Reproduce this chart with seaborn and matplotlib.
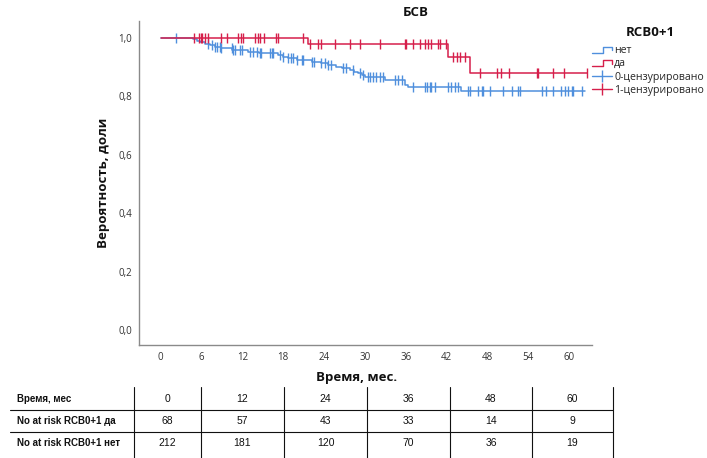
import numpy as np
import pandas as pd
import matplotlib
matplotlib.use("Agg")
import matplotlib.pyplot as plt
import seaborn as sns
from matplotlib.lines import Line2D
from matplotlib.legend_handler import HandlerBase

# ---------------- data ----------------
title = "БСВ"
group_names = ["нет", "да"]
censor_names = ["0-цензурировано", "1-цензурировано"]
legend_title = "RCB0+1"

# group "нет" (0)
blue_event_times = [4.8, 5.3, 5.8, 6.5, 7.2, 7.9, 8.9, 10.5, 12.8, 14.5, 17.2, 18.0, 18.7,
                    20.0, 22.2, 23.5, 24.6, 25.8, 26.6, 27.8, 28.4, 29.0, 29.6, 30.0,
                    32.9, 35.9, 36.4, 44.2]
blue_surv = [0.995, 0.990, 0.986, 0.981, 0.976, 0.970, 0.964, 0.959, 0.953, 0.947, 0.941,
             0.936, 0.930, 0.925, 0.919, 0.913, 0.907, 0.901, 0.896, 0.890, 0.884, 0.879,
             0.873, 0.867, 0.855, 0.840, 0.832, 0.820]
blue_end = 62.4
blue_censor = [2.2, 7.0, 7.5, 7.9, 8.2, 8.7, 8.9, 10.4, 10.6, 10.9, 11.6, 11.9, 13.1, 13.6,
               14.1, 14.6, 14.8, 16.0, 16.3, 16.5, 17.5, 18.0, 18.7, 19.2, 19.5, 20.0,
               20.7, 20.9, 22.2, 22.6, 23.6, 24.1, 24.6, 25.1, 26.8, 27.3, 28.3, 29.3,
               29.8, 30.5, 30.7, 31.2, 31.7, 32.2, 32.7, 34.4, 34.9, 35.4, 37.1, 38.8,
               39.1, 39.6, 39.8, 40.3, 42.3, 42.7, 43.2, 43.7, 45.2, 45.4, 46.7, 47.2,
               47.4, 48.4, 50.3, 51.6, 52.5, 52.8, 56.0, 56.7, 57.7, 58.9, 59.4, 59.9,
               60.4, 60.6, 61.9]

# group "да" (1)
red_event_times = [21.7, 42.2, 45.4]
red_surv = [0.978, 0.935, 0.881]
red_end = 62.6
red_censor = [4.9, 5.6, 5.9, 6.1, 6.5, 6.9, 8.9, 9.7, 11.4, 11.8, 12.1, 13.8, 14.3, 14.6,
              15.2, 16.9, 17.3, 20.9, 21.9, 23.1, 23.6, 25.6, 27.8, 29.3, 32.2, 35.9,
              36.1, 37.1, 38.1, 38.8, 39.3, 39.8, 40.8, 41.0, 42.0, 42.9, 43.5, 44.0,
              44.7, 46.9, 49.5, 50.0, 51.2, 55.3, 55.5, 57.6, 59.3, 62.6]

x_ticks = [0, 6, 12, 18, 24, 30, 36, 42, 48, 54, 60]
y_ticks = [0.0, 0.2, 0.4, 0.6, 0.8, 1.0]

table_header = "Время, мес"
table_times = [0, 12, 24, 36, 48, 60]
risk_labels = ["No at risk RCB0+1 да", "No at risk RCB0+1 нет"]
risk_da = [68, 57, 43, 33, 14, 9]
risk_net = [212, 181, 120, 70, 36, 19]

BLUE = "#4f8fdd"
RED = "#d61f4b"

# ---------------- style ----------------
sns.set_theme(style="white")
plt.rcParams["font.family"] = ["Open Sans", "DejaVu Sans"]

W, H = 707, 458
fig = plt.figure(figsize=(W / 100, H / 100), dpi=100)
ax = fig.add_axes([139 / W, 1 - 345 / H, (592 - 139) / W, (345 - 21) / H])


def step_frame(times, surv, end):
    t = [0.0] + list(times) + [end]
    s = [1.0] + list(surv) + [surv[-1]]
    return pd.DataFrame({"t": t, "s": s})


def censor_frame(times, surv, ctimes):
    t = np.array([0.0] + list(times))
    s = np.array([1.0] + list(surv))
    idx = np.searchsorted(t, np.array(ctimes), side="right") - 1
    return pd.DataFrame({"t": ctimes, "s": s[idx]})


for ev, sv, end, cens, col in [
    (blue_event_times, blue_surv, blue_end, blue_censor, BLUE),
    (red_event_times, red_surv, red_end, red_censor, RED),
]:
    df = step_frame(ev, sv, end)
    sns.lineplot(data=df, x="t", y="s", drawstyle="steps-post", color=col, lw=1.1,
                 estimator=None, sort=False, ax=ax)
    cf = censor_frame(ev, sv, cens)
    ax.plot(cf["t"], cf["s"], linestyle="none", marker="|", markersize=6.5,
            markeredgewidth=1.0, color=col)

ax.set_xlim(-3.2, 63.4)
ax.set_ylim(-0.05, 1.058)
ax.set_xticks(x_ticks)
ax.set_xticklabels([str(v) for v in x_ticks])
ax.set_yticks(y_ticks)
ax.set_yticklabels([f"{v:.1f}".replace(".", ",") for v in y_ticks])
ax.tick_params(axis="both", length=0, labelsize=7, colors="#333333")
ax.tick_params(axis="x", pad=5)
ax.tick_params(axis="y", pad=5)
ax.set_xlabel("")
ax.set_ylabel("")
for side in ["top", "right"]:
    ax.spines[side].set_visible(False)
for side in ["left", "bottom"]:
    ax.spines[side].set_color("#8a8a8a")
    ax.spines[side].set_linewidth(1.0)

fig.text(416 / W, 1 - 12 / H, title, ha="center", va="center", fontsize=9.5,
         fontweight="bold", color="#111111")
fig.text(357 / W, 1 - 377 / H, "Время, мес.", ha="center", va="center", fontsize=9.5,
         fontweight="bold", color="#111111")
fig.text(104 / W, 1 - 183 / H, "Вероятность, доли", ha="center", va="center",
         fontsize=9.5, fontweight="bold", rotation=90, color="#111111")


# ---------------- legend ----------------
class StepHandler(HandlerBase):
    def __init__(self, color):
        super().__init__()
        self.color = color

    def create_artists(self, legend, orig_handle, xdescent, ydescent, width, height,
                       fontsize, trans):
        x0 = -xdescent
        y0 = -ydescent
        xs = [x0, x0 + 0.55 * width, x0 + 0.55 * width, x0 + width, x0 + width]
        ys = [y0 + 0.05 * height, y0 + 0.05 * height, y0 + 0.85 * height,
              y0 + 0.85 * height, y0 + 0.35 * height]
        ln = Line2D(xs, ys, color=self.color, lw=1.0, transform=trans)
        return [ln]


fig.text(650 / W, 1 - 33 / H, legend_title, ha="center", va="center", fontsize=9.5,
         fontweight="bold", color="#111111")

h_net = Line2D([], [], color=BLUE)
h_da = Line2D([], [], color=RED)
h_c0 = Line2D([], [], color=BLUE, lw=1.0, marker="|", markersize=8, markeredgewidth=1.0)
h_c1 = Line2D([], [], color=RED, lw=1.0, marker="|", markersize=8, markeredgewidth=1.0)
leg = fig.legend([h_net, h_da, h_c0, h_c1], group_names + censor_names,
                 loc="upper left", bbox_to_anchor=(592 / W, 1 - 45 / H), frameon=False,
                 prop={"family": ["Open Sans", "DejaVu Sans"], "size": 7.6},
                 handlelength=1.85, handletextpad=0.25, labelspacing=0.22,
                 borderaxespad=0, borderpad=0,
                 handler_map={h_net: StepHandler(BLUE), h_da: StepHandler(RED)})

# ---------------- risk table ----------------
row_y = [399, 421, 443]
col_lines = [134, 201, 284, 367, 450, 532, 613]
col_centers = [(col_lines[i] + col_lines[i + 1]) / 2 for i in range(len(col_lines) - 1)]
rows = [(table_header, table_times), (risk_labels[0], risk_da), (risk_labels[1], risk_net)]
for yy, (lab, vals) in zip(row_y, rows):
    fig.text(17 / W, 1 - yy / H, lab, ha="left", va="center", fontsize=7,
             fontweight="bold", family=["Liberation Sans", "DejaVu Sans"], color="#111111")
    for cx, v in zip(col_centers, vals):
        fig.text(cx / W, 1 - yy / H, str(v), ha="center", va="center", fontsize=7.5,
                 family=["Liberation Sans", "DejaVu Sans"], color="#111111")
for yy in [410, 432]:
    fig.add_artist(Line2D([10 / W, 613 / W], [1 - yy / H, 1 - yy / H],
                          transform=fig.transFigure, color="#111111", lw=0.8))
for xx in col_lines:
    fig.add_artist(Line2D([xx / W, xx / W], [1 - 387 / H, 0], transform=fig.transFigure,
                          color="#111111", lw=0.8))

fig.savefig("out.png", dpi=100)
